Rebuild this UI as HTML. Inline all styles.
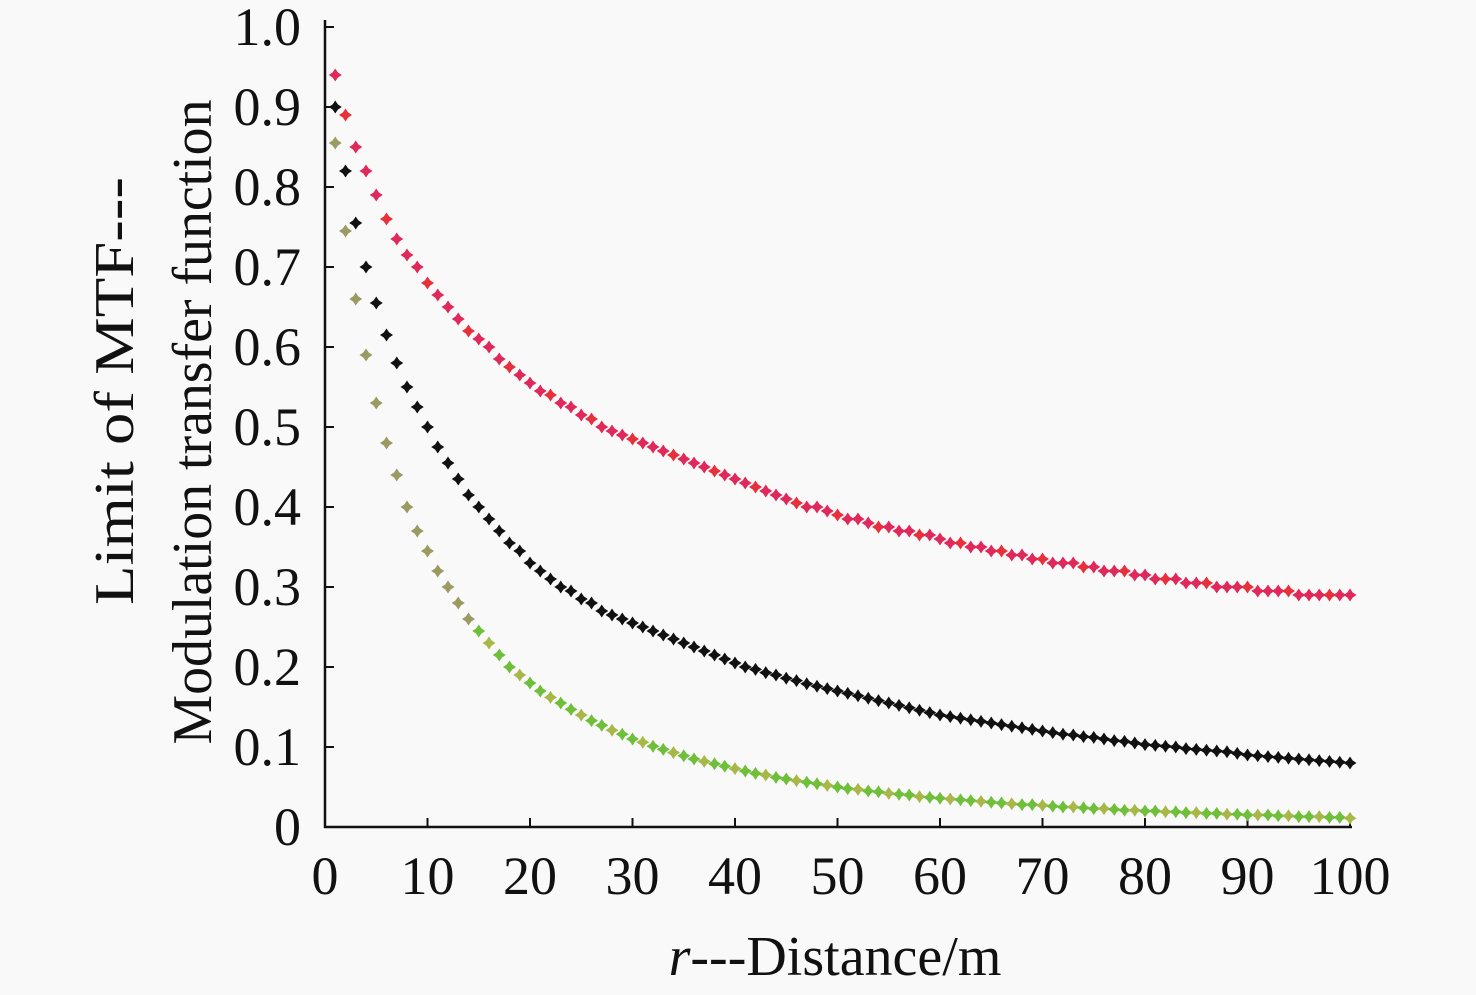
<!DOCTYPE html>
<html><head><meta charset="utf-8"><style>
html,body{margin:0;padding:0;background:#f9f9f9;}
svg{display:block;font-family:"Liberation Serif",serif;}
</style></head><body>
<svg id="chart" width="1476" height="995" viewBox="0 0 1476 995" xmlns="http://www.w3.org/2000/svg">
<rect width="1476" height="995" fill="#f9f9f9"/>
<g id="axes"></g>
<g id="marks"></g>
<text transform="translate(133,391) rotate(-90)" text-anchor="middle" font-size="56" fill="#111" textLength="428" lengthAdjust="spacingAndGlyphs">Limit of MTF---</text>
<text transform="translate(211,422) rotate(-90)" text-anchor="middle" font-size="56" fill="#111" textLength="645" lengthAdjust="spacingAndGlyphs">Modulation transfer function</text>
<text x="835" y="975" text-anchor="middle" font-size="56" fill="#111"><tspan font-style="italic">r</tspan>---Distance/m</text>
</svg>
<script>
const xTicks=[0,10,20,30,40,50,60,70,80,90,100];
const yTicks=[0,0.1,0.2,0.3,0.4,0.5,0.6,0.7,0.8,0.9,1.0];
const yTickLabels=["0","0.1","0.2","0.3","0.4","0.5","0.6","0.7","0.8","0.9","1.0"];
const redSeries=[.94,.89,.85,.82,.79,.76,.735,.715,.70,.68,
.665,.65,.635,.62,.61,.60,.585,.575,.565,.555,
.545,.54,.53,.525,.515,.51,.50,.495,.49,.485,
.48,.475,.47,.465,.46,.455,.45,.445,.44,.435,
.43,.425,.42,.415,.41,.405,.40,.40,.395,.39,
.385,.385,.38,.375,.375,.37,.37,.365,.365,.36,
.355,.355,.35,.35,.345,.345,.34,.34,.335,.335,
.33,.33,.33,.325,.325,.32,.32,.32,.315,.315,
.31,.31,.31,.305,.305,.305,.30,.30,.30,.30,
.295,.295,.295,.295,.29,.29,.29,.29,.29,.29];
const blackSeries=[.90,.82,.755,.70,.655,.615,.58,.55,.525,.50,
.475,.455,.435,.415,.40,.385,.37,.355,.345,.33,
.32,.31,.30,.295,.285,.28,.27,.265,.26,.255,
.25,.245,.24,.235,.23,.225,.22,.215,.21,.205,
.20,.197,.193,.19,.186,.183,.179,.176,.173,.17,
.167,.164,.161,.158,.155,.152,.149,.146,.143,.14,
.138,.136,.134,.132,.13,.128,.126,.124,.122,.12,
.118,.116,.115,.113,.112,.110,.108,.107,.105,.103,
.102,.101,.10,.098,.097,.096,.095,.094,.092,.09,
.089,.088,.087,.086,.085,.084,.083,.082,.081,.08];
const greenSeries=[.855,.745,.66,.59,.53,.48,.44,.40,.37,.345,
.32,.30,.28,.26,.245,.23,.215,.20,.19,.18,
.17,.162,.155,.147,.14,.133,.127,.121,.116,.11,
.106,.101,.097,.093,.089,.085,.082,.079,.076,.073,
.07,.067,.065,.062,.06,.058,.056,.054,.052,.05,
.048,.047,.045,.044,.042,.041,.04,.038,.037,.036,
.035,.034,.033,.032,.031,.030,.029,.028,.028,.027,
.026,.025,.025,.024,.023,.023,.022,.021,.021,.02,
.02,.019,.019,.018,.018,.017,.017,.016,.016,.015,
.015,.015,.014,.014,.013,.013,.013,.012,.012,.011];

const NS="http://www.w3.org/2000/svg";
const X0=325,X1=1350,Y0=827,Y1=27;
function xs(v){return X0+(v-0)/(100-0)*(X1-X0);}
function ys(v){return Y0-(v-0)/(1-0)*(Y0-Y1);}
function mk(tag,attrs){const e=document.createElementNS(NS,tag);for(const k in attrs)e.setAttribute(k,attrs[k]);return e;}
const axes=document.getElementById('axes');
const marks=document.getElementById('marks');

const yAxis=mk('line',{x1:X0,y1:20,x2:X0,y2:Y0+1,stroke:'#111','stroke-width':2.5});


axes.appendChild(yAxis);
const xAxis=mk('line',{x1:X0-1,y1:Y0,x2:X1+2,y2:Y0,stroke:'#111','stroke-width':2.5});


axes.appendChild(xAxis);

yTicks.forEach((t,i)=>{
  const y=ys(t);
  const tk=mk('line',{x1:X0,y1:y,x2:X0+9,y2:y,stroke:'#111','stroke-width':2});
  
  
  axes.appendChild(tk);
  const lb=mk('text',{x:301,y:y+18,'text-anchor':'end','font-size':54,fill:'#111'});
  lb.textContent=yTickLabels[i];
  
  
  axes.appendChild(lb);
});
xTicks.forEach(t=>{
  const x=xs(t);
  const tk=mk('line',{x1:x,y1:Y0,x2:x,y2:Y0-9,stroke:'#111','stroke-width':2});
  
  
  axes.appendChild(tk);
  const lb=mk('text',{x:x,y:894,'text-anchor':'middle','font-size':54,fill:'#111'});
  lb.textContent=String(t);
  
  
  axes.appendChild(lb);
});

function star(cx,cy,r,color){
  const p=`M${cx},${cy-r} L${cx+r*0.4},${cy-r*0.4} L${cx+r},${cy} L${cx+r*0.4},${cy+r*0.4} L${cx},${cy+r} L${cx-r*0.4},${cy+r*0.4} L${cx-r},${cy} L${cx-r*0.4},${cy-r*0.4} Z`;
  return mk('path',{d:p,fill:color});
}
function drawSeries(arr,name,colorFn){
  const g=mk('g',{});
  
  
  arr.forEach((v,i)=>{
    const s=star(xs(i+1),ys(v),6.5,colorFn(i));
    
    
    g.appendChild(s);
  });
  marks.appendChild(g);
}
drawSeries(greenSeries,'series-green',i=>i<14?'#9a9a62':(i%3===0?'#a8b848':'#6fbf3a'));
drawSeries(blackSeries,'series-black',()=>'#111');
drawSeries(redSeries,'series-red',i=>i%4===1?'#e8303a':'#e0285a');
</script>
</body></html>
